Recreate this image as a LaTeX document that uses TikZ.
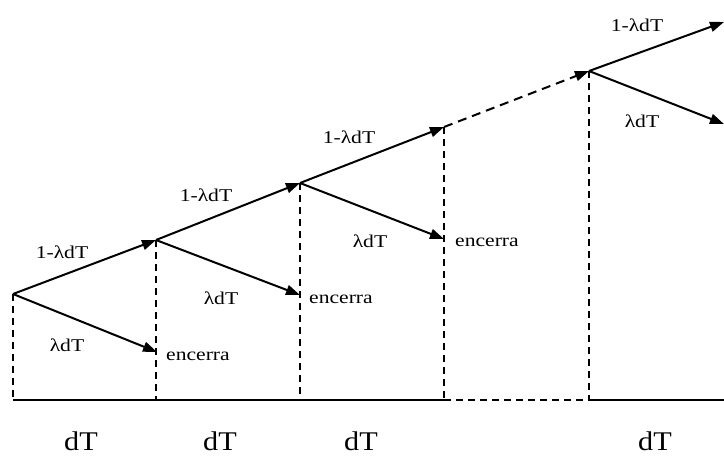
\documentclass[tikz,border=0pt]{standalone}
\usepackage{fontspec}
\setmainfont{Liberation Serif}
\usetikzlibrary{arrows.meta}
\tikzset{
  ast/.style={-{Triangle[length=14pt,width=10pt]},line width=2pt},
  astg/.style={ast,dash pattern=on 9pt off 6pt},
  lot/.style={dash pattern=on 7pt off 5pt,line width=1.3pt},
  basis/.style={line width=1.8pt},
  bez/.style={font=\fontsize{18}{18}\selectfont,inner sep=0pt,transform shape,xscale=1.2},
  zeit/.style={font=\fontsize{27}{27}\selectfont,inner sep=0pt,transform shape,xscale=1.12},
}
\begin{document}
\begin{tikzpicture}[x=1pt,y=-1pt]
  \useasboundingbox (0,0) rectangle (724,456);
  % --- Verzweigungspunkte ---
  \coordinate (P0) at (13,294);
  \coordinate (P1) at (156,240);
  \coordinate (P2) at (300,183);
  \coordinate (P3) at (444,127);
  \coordinate (P4) at (589,71);
  \coordinate (E) at (724,22);
  \coordinate (A0) at (157,352);
  \coordinate (A1) at (300,295);
  \coordinate (A2) at (444,239);
  \coordinate (A4) at (724,124);
  % --- Zeitachse ---
  \coordinate (B0) at (13,400);
  \coordinate (B1) at (156,400);
  \coordinate (B2) at (300,400);
  \coordinate (B3) at (444,400);
  \coordinate (B4) at (589,400);
  \coordinate (B5) at (724,400);
  \draw[basis] (B0)--(B3);
  \draw[basis,dash pattern=on 7pt off 5pt] (B3)--(B4);
  \draw[basis] (B4)--(B5);
  \foreach \i in {0,...,4} \draw[lot] (P\i)--(B\i);
  % --- Zweige ---
  \draw[ast] (P0)--(P1);
  \draw[ast] (P1)--(P2);
  \draw[ast] (P2)--(P3);
  \draw[astg] (P3)--(P4);
  \draw[ast] (P4)--(E);
  \draw[ast] (P0)--(A0);
  \draw[ast] (P1)--(A1);
  \draw[ast] (P2)--(A2);
  \draw[ast] (P4)--(A4);
  % --- Beschriftungen ---
  \node[bez] (w0) at (62,252) {1-λdT};
  \node[bez] (w1) at (206,195) {1-λdT};
  \node[bez] (w2) at (349,137) {1-λdT};
  \node[bez] (w4) at (637,25) {1-λdT};
  \node[bez] (q0) at (67,345) {λdT};
  \node[bez] (q1) at (221,298) {λdT};
  \node[bez] (q2) at (370,241) {λdT};
  \node[bez] (q4) at (642,121) {λdT};
  \node[bez] (e0) at (198,356) {encerra};
  \node[bez] (e1) at (341,299) {encerra};
  \node[bez] (e2) at (487,242) {encerra};
  \node[zeit] (t0) at (81,441) {dT};
  \node[zeit] (t1) at (220,441) {dT};
  \node[zeit] (t2) at (361,441) {dT};
  \node[zeit] (t4) at (655,441) {dT};
\end{tikzpicture}
\end{document}
